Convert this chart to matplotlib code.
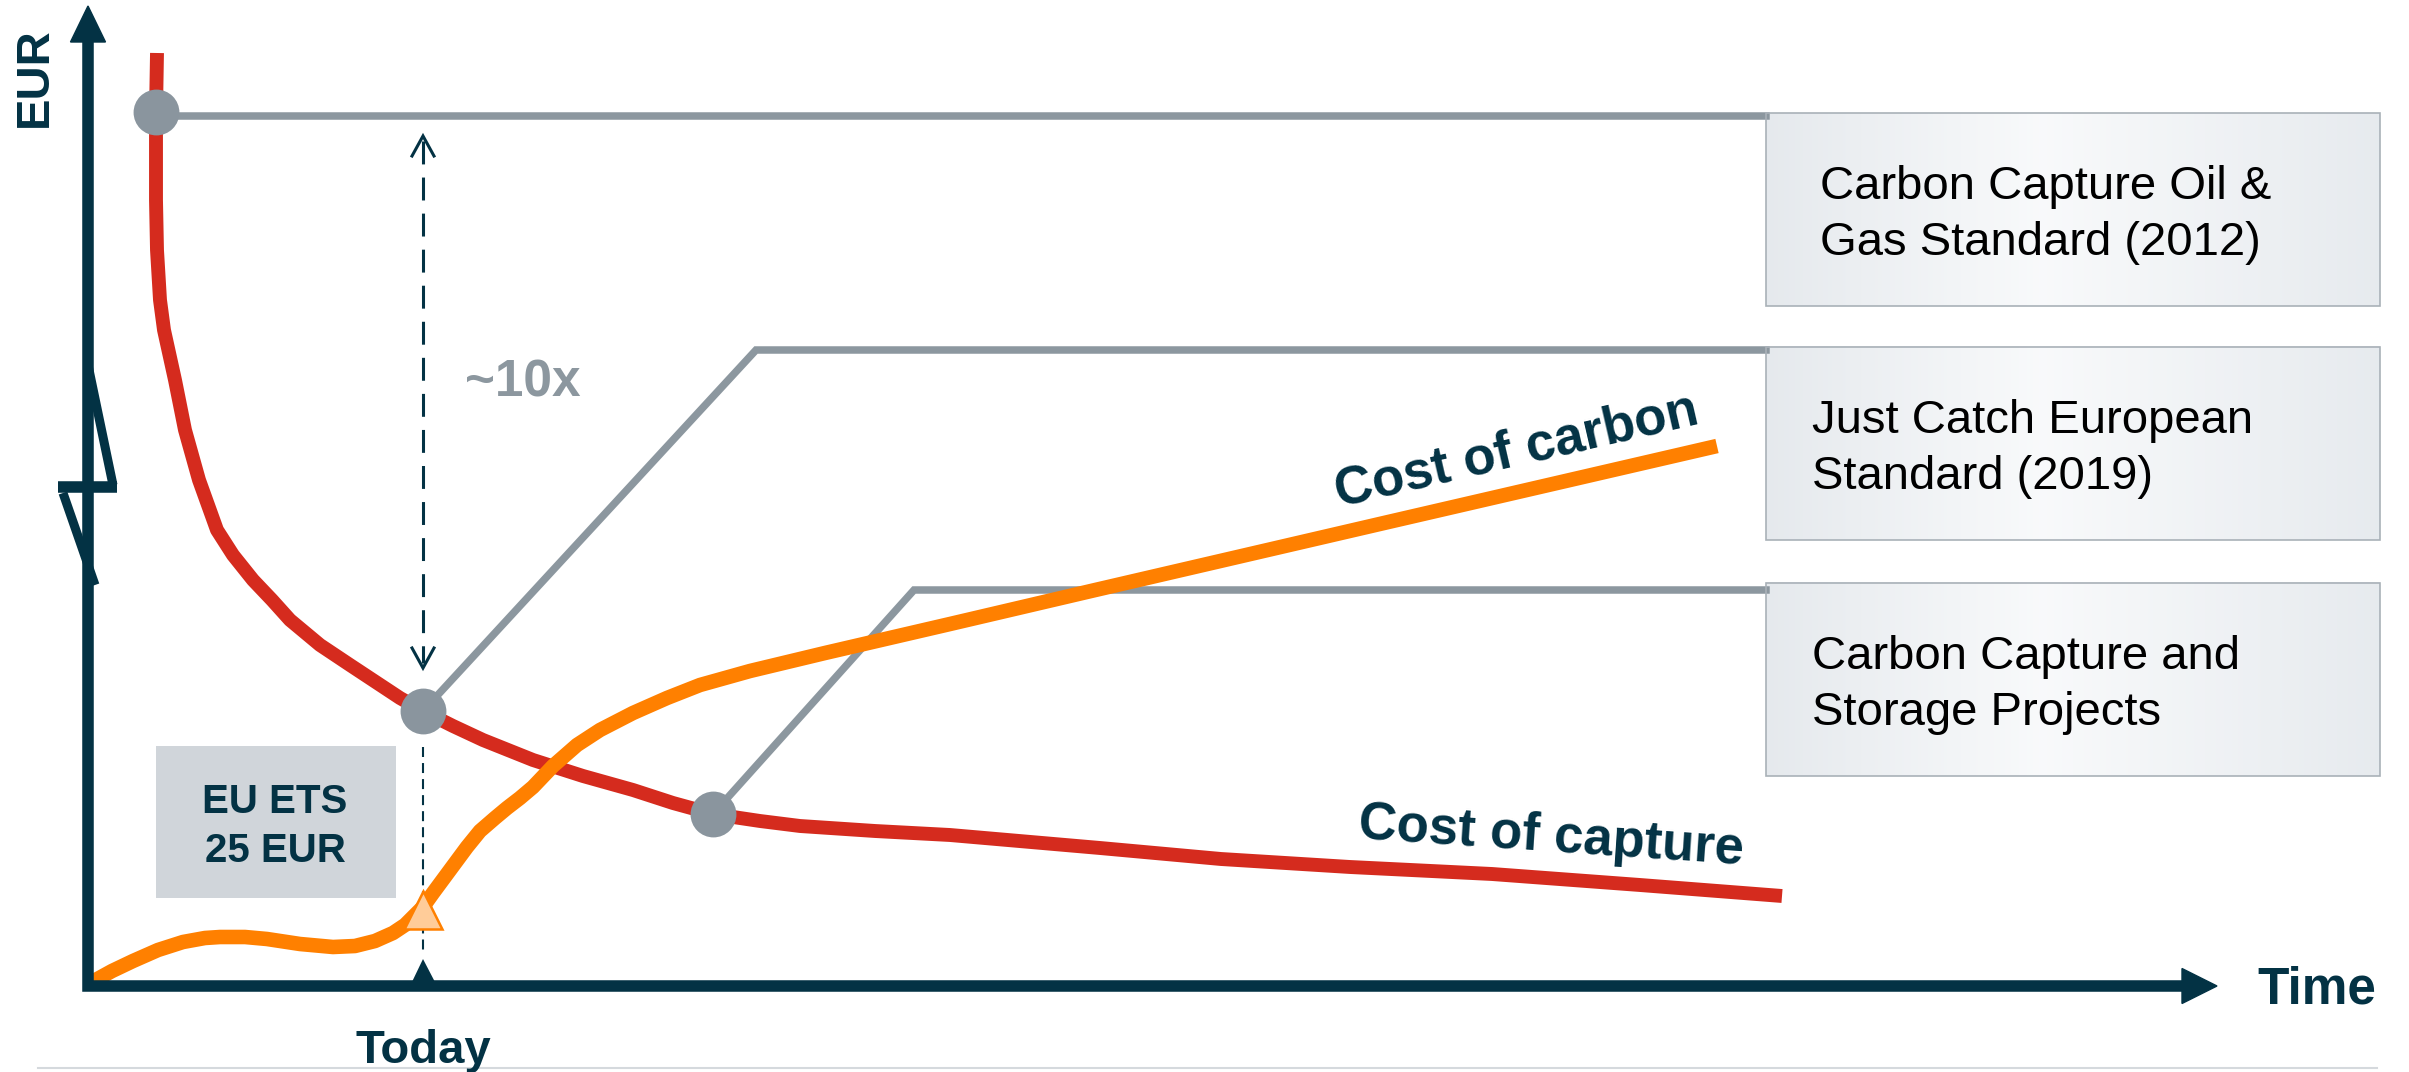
import numpy as np
import matplotlib
matplotlib.use("Agg")
from matplotlib import pyplot as plt
from matplotlib.patches import Rectangle

plt.rcParams['font.family'] = ['Liberation Sans', 'DejaVu Sans']

# cost of capture (red)
capture_t = [6.9, 6.8, 6.8, 6.9, 7.2, 7.6, 8.7, 9.7, 11.1, 12.9, 14.5, 16.5, 18.4, 20.2,
             23.2, 26.2, 31.2, 33.5, 36.5, 39.5, 44.5, 49.5, 54.5, 58.5, 62.5, 67.2, 71.2,
             78.7, 86.2, 101.2, 113.3, 126.2, 140.4, 155.2, 169.4]
capture_eur = [93.3, 87.4, 78.6, 73.6, 68.6, 65.6, 60.6, 55.6, 50.6, 45.6, 43.1, 40.6, 38.6, 36.6,
               34.1, 32.1, 28.8, 27.5, 26.0, 24.6, 22.6, 21.0, 19.6, 18.3, 17.2, 16.5, 16.0,
               15.5, 15.1, 13.8, 12.7, 11.9, 11.2, 10.1, 9.0]

# cost of carbon (orange)
carbon_t = [0.4, 2.4, 4.5, 7.0, 9.5, 11.7, 13.2, 15.7, 17.9, 21.2, 24.5, 26.7, 28.7, 30.5,
            31.7, 32.5, 33.5, 34.5, 36.2, 37.9, 39.2, 40.7, 41.9, 43.2, 44.5, 46.5, 48.9,
            51.2, 54.5, 57.9, 61.2, 66.2, 73.7, 86.2, 100.3, 129.6, 162.9]
carbon_eur = [0.4, 1.5, 2.5, 3.6, 4.4, 4.8, 4.9, 4.9, 4.7, 4.2, 3.9, 4.0, 4.5, 5.3,
              6.1, 6.9, 7.9, 9.3, 11.6, 13.9, 15.5, 16.8, 17.8, 18.8, 19.9, 22.0, 24.1,
              25.6, 27.3, 28.8, 30.1, 31.5, 33.3, 36.2, 39.5, 46.3, 54.0]

today_t = 33.5

# standards marked on the capture curve
standard_labels = ['Carbon Capture Oil &\nGas Standard (2012)',
                   'Just Catch European\nStandard (2019)',
                   'Carbon Capture and\nStorage Projects']
standard_t = [6.8, 33.5, 62.5]
link_bend_t = [6.8, 66.8, 82.6]
link_level = [87.0, 63.6, 39.6]
box_top = [87.3, 63.9, 40.3]

navy = '#033244'
grey = '#8C979F'
red = '#D52B1E'
orange = '#FF8000'

fig = plt.figure(figsize=(24.09, 10.72), dpi=100)
ax = fig.add_axes([0, 0, 1, 1])

# axes with arrow heads
ax.plot([0, 0, 209.6], [94.6, 0, 0], lw=8.3, color=navy, solid_joinstyle='miter',
        solid_capstyle='butt', zorder=5)
ax.fill([-1.75, 1.75, 0], [94.4, 94.4, 98.0], color=navy, zorder=5)
ax.fill([209.4, 209.4, 212.9], [1.75, -1.75, 0], color=navy, zorder=5)
# axis break
ax.plot([0, 2.5], [62.1, 50.1], lw=6.5, color=navy, solid_capstyle='butt', zorder=5)
ax.plot([-3.0, 2.9], [49.9, 49.9], lw=8.3, color=navy, solid_capstyle='butt', zorder=5)
ax.plot([-2.5, 0.7], [49.3, 40.1], lw=6.5, color=navy, solid_capstyle='butt', zorder=5)

# bottom rule
ax.plot([-5.0, 228.9], [-8.2, -8.2], lw=1.5, color='#D5D9DD')

# grey connectors to the standards
for i in range(3):
    y0 = capture_eur[capture_t.index(standard_t[i])]
    ax.plot([standard_t[i], link_bend_t[i], 167.8], [y0, link_level[i], link_level[i]],
            lw=5.4, color=grey, solid_joinstyle='miter', zorder=2)

# curves
ax.plot(capture_t, capture_eur, lw=10, color=red, solid_capstyle='butt',
        solid_joinstyle='round', zorder=3)
ax.plot(carbon_t, carbon_eur, lw=10.5, color=orange, solid_capstyle='butt',
        solid_joinstyle='round', zorder=4)

for i in range(3):
    y0 = capture_eur[capture_t.index(standard_t[i])]
    ax.plot(standard_t[i], y0, 'o', ms=33, color='#8A959E', mew=0, zorder=6)

# today markers
ax.plot([today_t, today_t], [23.9, 3.1], lw=1.5, color=navy, dashes=(4.8, 2.9), zorder=3)
ax.plot(today_t, 1.5, marker='^', ms=18, color=navy, mew=0, zorder=5)
i_today = carbon_t.index(today_t)
ax.plot(today_t, carbon_eur[i_today] - 0.3, marker='^', ms=27, mfc='#FFCC99', mec=orange,
        mew=1.8, zorder=7)

# ~10x arrow
arrow_top = 85.0
arrow_bottom = 31.8
ax.plot([today_t, today_t], [arrow_top - 0.5, arrow_bottom + 0.5], lw=2.2, color=navy,
        dashes=(7.5, 4.3), zorder=3)
for tip, d in [(arrow_top, -1), (arrow_bottom, 1)]:
    ax.plot([today_t - 1.1, today_t, today_t + 1.1], [tip + 2.0 * d, tip, tip + 2.0 * d],
            lw=2.2, color=navy, solid_joinstyle='miter', zorder=3)
ax.text(37.7, 58.9, '~10x', fontsize=37, fontweight='bold', color=grey, va='baseline')

# EU ETS box
ax.add_patch(Rectangle((6.8, 8.8), 24.0, 15.2, facecolor='#D0D5DA', edgecolor='none', zorder=1))
ax.text(18.7, 17.3, 'EU ETS', fontsize=29, fontweight='bold', color=navy, ha='center', va='baseline')
ax.text(18.7, 12.4, '25 EUR', fontsize=29, fontweight='bold', color=navy, ha='center', va='baseline')

# standard boxes with soft gradient
stops = np.array([0.0, 0.45, 1.0])
cols = np.array([[0.90, 0.915, 0.93], [0.975, 0.98, 0.985], [0.905, 0.92, 0.935]])
xs = np.linspace(0, 1, 256)
grad = np.stack([np.interp(xs, stops, cols[:, k]) for k in range(3)], axis=-1)[None, :, :]
for i in range(3):
    top = box_top[i]
    ax.imshow(grad, extent=[167.8, 229.2, top - 19.3, top], aspect='auto', zorder=1,
              interpolation='bilinear')
    ax.add_patch(Rectangle((167.8, top - 19.3), 61.4, 19.3, facecolor='none',
                           edgecolor='#A9B1B8', lw=1.2, zorder=2))
    tx = 173.2 if i == 0 else 172.4
    for j, line in enumerate(standard_labels[i].split('\n')):
        ax.text(tx, top - 8.6 - 5.6 * j, line, fontsize=34, color='black', va='baseline', zorder=3)

# labels
ax.text(-5.3, 90.9, 'EUR', fontsize=34, fontweight='bold', color=navy, rotation=90,
        ha='center', va='center')
ax.text(216.9, -1.7, 'Time', fontsize=37, fontweight='bold', color=navy, va='baseline')
ax.text(today_t, -7.7, 'Today', fontsize=34, fontweight='bold', color=navy, ha='center',
        va='baseline')
ax.text(143.2, 52.1, 'Cost of carbon', fontsize=38, fontweight='bold', color=navy,
        rotation=13, rotation_mode='anchor', ha='center', va='baseline')
ax.text(146.2, 13.5, 'Cost of capture', fontsize=38, fontweight='bold', color=navy,
        rotation=-3.9, rotation_mode='anchor', ha='center', va='baseline')

ax.set_xlim(-8.8, 232.1)
ax.set_ylim(-8.6, 98.6)
ax.axis('off')

plt.savefig('out.png', dpi=100)
